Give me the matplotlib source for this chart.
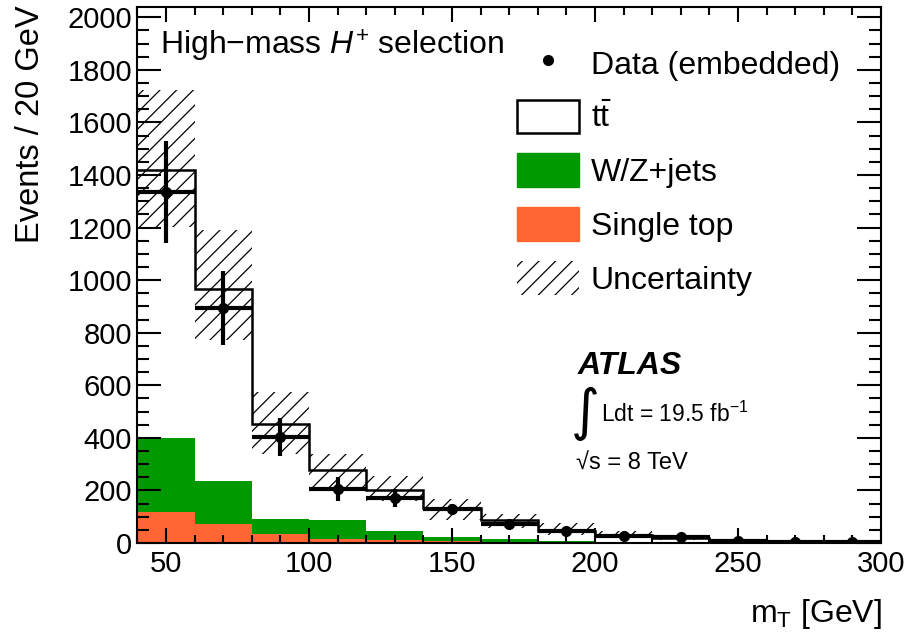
import numpy as np
import matplotlib
matplotlib.use("Agg")
import matplotlib.pyplot as plt
from matplotlib.patches import Patch
from matplotlib.lines import Line2D
from matplotlib.ticker import MultipleLocator

plt.rcParams['font.family'] = ['Liberation Sans', 'DejaVu Sans']
plt.rcParams['mathtext.fontset'] = 'custom'
plt.rcParams['mathtext.rm'] = 'Liberation Sans'
plt.rcParams['mathtext.it'] = 'Liberation Sans:italic'
plt.rcParams['mathtext.bf'] = 'Liberation Sans:bold'
plt.rcParams['hatch.linewidth'] = 0.9

# bin edges in m_T [GeV]
edges = np.arange(40, 301, 20)
centers = edges[:-1] + 10

# stacked backgrounds (events / 20 GeV)
single_top = [119, 74, 36, 17, 12, 8, 5, 3, 2, 1, 1, 1, 1]
wz_jets = [282, 163, 55, 70, 33, 14, 12, 5, 3, 2, 1, 0.5, 0.5]
ttbar = [1019, 728, 360, 192, 158, 112, 71, 38, 26, 15, 6, 3.5, 2.5]

# uncertainty band
band_lo = [1202, 772, 339, 211, 161, 87, 59, 30, 18, 10, 3, 1, 1]
band_hi = [1722, 1189, 575, 339, 254, 167, 112, 75, 46, 28, 15, 10, 8]

# data
data = [1336, 894, 403, 205, 171, 129, 74, 46, 27, 21, 6, 3, 3]
data_err = [193, 139, 71, 45, 35, 20, 12, 9, 7, 6, 12, 3, 3]

green = '#009900'
orange = '#ff6633'

fig = plt.figure(figsize=(9.14, 6.36), dpi=100)
ax = fig.add_axes([0.1504, 0.1462, 0.8135, 0.8423])

width = np.diff(edges)
st = np.array(single_top, dtype=float)
wz = np.array(wz_jets, dtype=float)
tt = np.array(ttbar, dtype=float)
total = st + wz + tt

ax.bar(edges[:-1], st, width=width, align='edge', color=orange, linewidth=0)
ax.bar(edges[:-1], wz, width=width, bottom=st, align='edge', color=green, linewidth=0)
ax.bar(edges[:-1], tt, width=width, bottom=st + wz, align='edge', color='white', linewidth=0)

# outline of the total stack
ax.stairs(total, edges, color='black', linewidth=1.8, baseline=None, zorder=3)

# hatched uncertainty
ax.stairs(np.array(band_hi), edges, baseline=np.array(band_lo), fill=True,
          facecolor='none', edgecolor='black', hatch='//', linewidth=0, zorder=4)

ax.errorbar(centers, data, yerr=data_err, xerr=10, fmt='o', color='black',
            markersize=7, elinewidth=3, capsize=0, zorder=5)

ax.set_xlim(40, 300)
ax.set_ylim(0, 2038)
ax.xaxis.set_major_locator(MultipleLocator(50))
ax.xaxis.set_minor_locator(MultipleLocator(10))
ax.yaxis.set_major_locator(MultipleLocator(200))
ax.yaxis.set_minor_locator(MultipleLocator(50))
ax.tick_params(axis='both', which='both', direction='in', top=True, right=True,
               width=1.5, labelsize=21)
ax.tick_params(axis='y', which='major', length=17, pad=4)
ax.tick_params(axis='y', which='minor', length=8.5)
ax.tick_params(axis='x', which='major', length=11, pad=5)
ax.tick_params(axis='x', which='minor', length=5.5)
for s in ax.spines.values():
    s.set_linewidth(1.5)

fig.text(31 / 914, 1 - 5 / 636, 'Events / 20 GeV', rotation=90, ha='center', va='top', fontsize=23.5)
fig.text(882 / 914, 1 - 622 / 636, r'$\mathrm{m_T}$ [GeV]', ha='right', va='baseline', fontsize=23)

ax.text(0.030, 0.911, 'High\u2212mass $\\mathit{H}^{+}$ selection', transform=ax.transAxes,
        fontsize=23, va='baseline', ha='left')

ax.text(0.5925, 0.3155, 'ATLAS', transform=ax.transAxes, fontsize=23,
        fontweight='bold', fontstyle='italic', va='baseline', ha='left')
ax.text(0.602, 0.241, '\u222b', transform=ax.transAxes, fontsize=40,
        family=['DejaVu Sans'], fontstyle='oblique', va='center', ha='center')
ax.text(0.623, 0.2265, r'Ldt = 19.5 fb$^{\mathrm{-1}}$', transform=ax.transAxes,
        fontsize=16.5, va='baseline', ha='left')
ax.text(0.590, 0.1363, '\u221as = 8 TeV', transform=ax.transAxes,
        fontsize=17, va='baseline', ha='left')

handles = [
    Line2D([], [], marker='o', color='black', linestyle='none', markersize=7),
    Patch(facecolor='white', edgecolor='black', linewidth=1.8),
    Patch(facecolor=green, edgecolor=green),
    Patch(facecolor=orange, edgecolor=orange),
    Patch(facecolor='none', edgecolor='black', hatch='//', linewidth=0),
]
labels = ['Data (embedded)', r'$\mathrm{t\bar{t}}$', 'W/Z+jets', 'Single top', 'Uncertainty']
ax.legend(handles, labels, loc='upper left', bbox_to_anchor=(0.510, 0.928),
          frameon=False, fontsize=23, borderpad=0, borderaxespad=0,
          handlelength=1.94, handleheight=1.25, handletextpad=0.375, labelspacing=0.6)

fig.savefig('out.png', dpi=100)
